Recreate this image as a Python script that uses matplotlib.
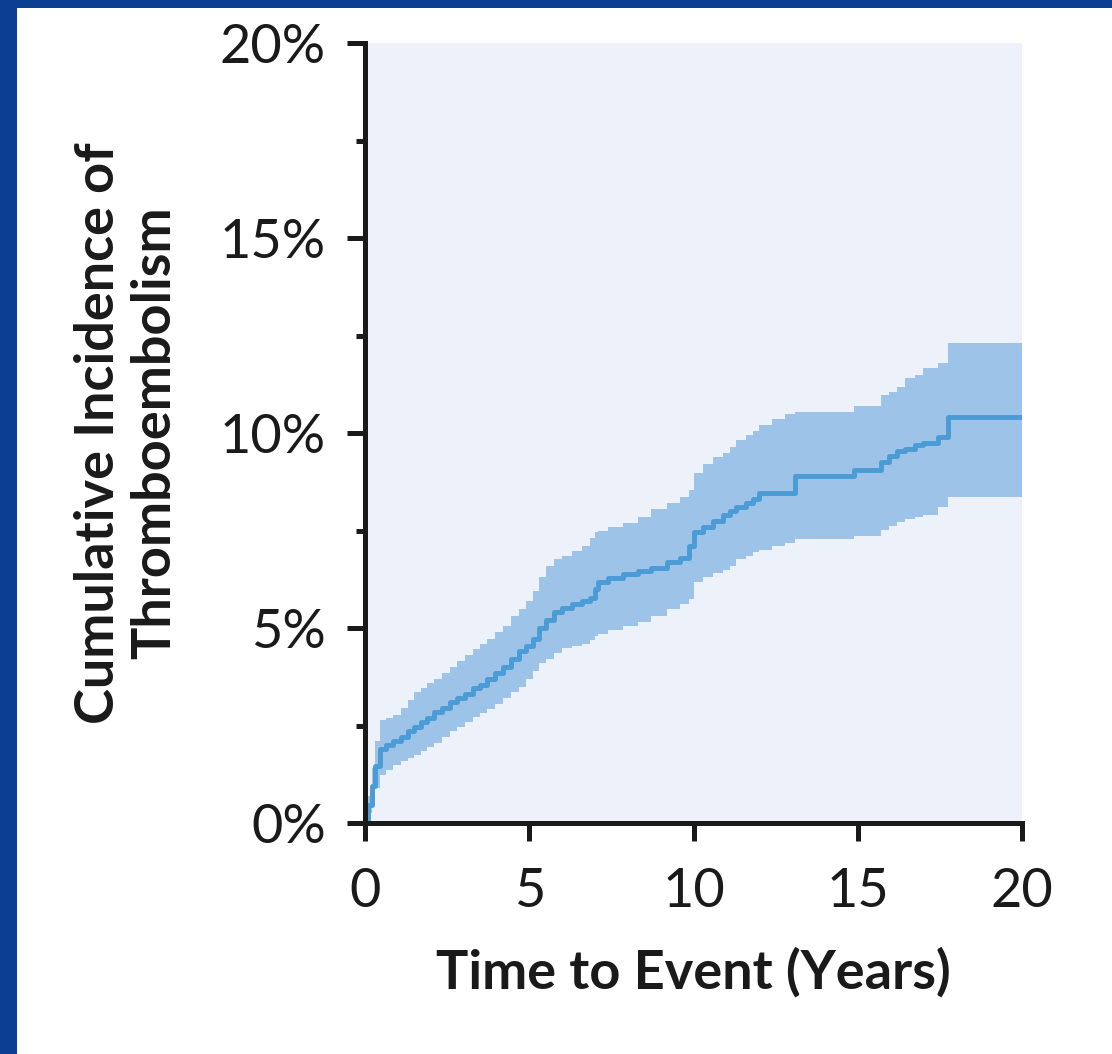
import numpy as np
import matplotlib.pyplot as plt
from matplotlib.patches import Rectangle
from matplotlib.ticker import MultipleLocator, FuncFormatter

# step times (years) and cumulative incidence (%) with its confidence band
TIMES = [0.0, 0.1, 0.2, 0.3, 0.45, 0.65, 0.86, 1.1, 1.3, 1.5, 1.7, 1.9, 2.1, 2.35, 2.6,
         2.8, 3.05, 3.3, 3.5, 3.7, 3.95, 4.2, 4.45, 4.7, 4.9, 5.1, 5.3, 5.5, 5.75, 6.0,
         6.3, 6.6, 6.85, 7.0, 7.1, 7.4, 7.85, 8.3, 8.7, 9.2, 9.6, 9.85, 10.0, 10.3,
         10.6, 10.9, 11.1, 11.3, 11.6, 11.8, 12.0, 12.4, 12.8, 13.1, 14.9, 15.7, 15.95,
         16.2, 16.45, 16.75, 17.0, 17.45, 17.75, 20.0]
ESTIMATE = [0.0, 0.45, 0.95, 1.45, 1.9, 2.0, 2.1, 2.2, 2.35, 2.45, 2.6, 2.7, 2.85, 2.95, 3.1,
            3.2, 3.3, 3.45, 3.55, 3.7, 3.85, 4.0, 4.2, 4.4, 4.55, 4.72, 5.0, 5.2, 5.4, 5.52,
            5.62, 5.7, 5.78, 6.0, 6.17, 6.28, 6.38, 6.45, 6.55, 6.68, 6.8, 7.1, 7.45, 7.6,
            7.75, 7.9, 8.0, 8.1, 8.2, 8.3, 8.45, 8.45, 8.45, 8.9, 9.05, 9.25, 9.4,
            9.55, 9.6, 9.7, 9.75, 9.9, 10.4, 10.4]
LOWER = [0.0, 0.25, 0.55, 0.9, 1.24, 1.35, 1.5, 1.58, 1.66, 1.74, 1.85, 1.95, 2.05, 2.2, 2.35,
         2.45, 2.6, 2.72, 2.82, 2.93, 3.05, 3.2, 3.35, 3.5, 3.7, 3.9, 4.1, 4.2, 4.35, 4.5,
         4.55, 4.58, 4.7, 4.8, 4.85, 4.95, 5.05, 5.15, 5.3, 5.5, 5.62, 5.74, 6.17, 6.3,
         6.4, 6.5, 6.6, 6.76, 6.85, 6.94, 7.0, 7.1, 7.19, 7.27, 7.35, 7.52, 7.62,
         7.73, 7.8, 7.85, 7.9, 8.1, 8.37, 8.37]
UPPER = [0.0, 0.7, 1.4, 2.1, 2.65, 2.7, 2.76, 2.95, 3.15, 3.36, 3.45, 3.58, 3.7, 3.85, 4.0,
         4.15, 4.3, 4.45, 4.58, 4.72, 4.9, 5.05, 5.3, 5.5, 5.7, 5.95, 6.3, 6.6, 6.76, 6.85,
         6.97, 7.1, 7.3, 7.47, 7.5, 7.6, 7.7, 7.85, 8.04, 8.2, 8.35, 8.55, 8.98, 9.2,
         9.39, 9.5, 9.64, 9.82, 9.95, 10.05, 10.2, 10.35, 10.5, 10.55, 10.7, 10.97, 11.05,
         11.17, 11.4, 11.5, 11.66, 11.8, 12.3, 12.3]

BORDER = '#0B3F94'
PANEL_BG = '#EDF2FA'
BAND = '#9DC3E8'
LINE = '#4A9BD6'
INK = '#1a1a1a'

plt.rcParams['font.family'] = ['Lato', 'DejaVu Sans']

fig = plt.figure(figsize=(11.12, 10.54), dpi=100, facecolor='white')
# blue frame on the left and top edges
fig.patches.append(Rectangle((0, 0), 17 / 1112, 1, transform=fig.transFigure,
                             facecolor=BORDER, edgecolor='none'))
fig.patches.append(Rectangle((0, 1 - 8 / 1054), 1, 8 / 1054, transform=fig.transFigure,
                             facecolor=BORDER, edgecolor='none'))

ax = fig.add_axes([365 / 1112, 1 - 823 / 1054, 657 / 1112, 780 / 1054])
ax.set_facecolor(PANEL_BG)

ax.fill_between(TIMES, LOWER, UPPER, step='post', color=BAND, linewidth=0)
ax.step(TIMES, ESTIMATE, where='post', color=LINE, linewidth=3.5)

ax.set_xlim(0, 20)
ax.set_ylim(0, 20)
ax.set_xticks([0, 5, 10, 15, 20])
ax.yaxis.set_major_locator(MultipleLocator(5))
ax.yaxis.set_minor_locator(MultipleLocator(2.5))
ax.yaxis.set_major_formatter(FuncFormatter(lambda v, p: f'{v:.0f}%'))

for side in ['top', 'right']:
    ax.spines[side].set_visible(False)
for side in ['left', 'bottom']:
    ax.spines[side].set_linewidth(3.6)
    ax.spines[side].set_color(INK)

ax.tick_params(axis='both', which='major', length=13, width=3.6, color=INK,
               labelsize=39, labelcolor=INK)
ax.tick_params(axis='y', which='minor', length=6.5, width=3.6, color=INK)
ax.tick_params(axis='x', pad=19)
ax.tick_params(axis='y', pad=15)

ax.set_xlabel('Time to Event (Years)', fontsize=39, fontweight='bold', color=INK,
              va='baseline')
ax.xaxis.set_label_coords(0.5, -0.212)
ax.set_ylabel('Cumulative Incidence of\nThromboembolism', fontsize=39, fontweight='bold',
              color=INK, linespacing=1.2)
ax.yaxis.set_label_coords(-0.282, 0.5)

fig.savefig('out.png', dpi=100, facecolor='white')
